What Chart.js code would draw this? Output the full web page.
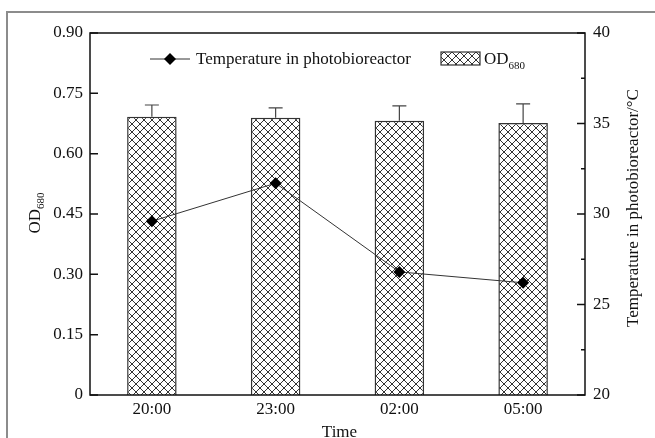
<!DOCTYPE html>
<html>
<head>
<meta charset="utf-8">
<script src="https://cdn.jsdelivr.net/npm/chart.js@4"></script>
<style>
  body { margin: 0; background: #fff; }
  #wrap { width: 655px; height: 438px; }
</style>
</head>
<body>
<div id="wrap"><canvas id="chart" width="655" height="438"></canvas></div>
<script>
// data
const times = ['20:00', '23:00', '02:00', '05:00'];
const od680 = [0.692, 0.689, 0.682, 0.676];
const od680Err = [0.029, 0.025, 0.037, 0.048];
const temperature = [29.6, 31.7, 26.8, 26.2];

const FONT = "'Liberation Serif', 'DejaVu Serif', serif";
const FS = 17;

// cross hatch fill for the bars
function makeHatch() {
    const c = document.createElement('canvas');
    c.width = 8; c.height = 8;
    const g = c.getContext('2d');
    g.fillStyle = '#fff';
    g.fillRect(0, 0, 8, 8);
    g.strokeStyle = '#333';
    g.lineWidth = 1;
    g.beginPath();
    g.moveTo(0, 0); g.lineTo(8, 8);
    g.moveTo(8, 0); g.lineTo(0, 8);
    g.stroke();
    return g.createPattern(c, 'repeat');
}
const hatch = makeHatch();

// frame, axes box, inward ticks, error bars, titles and legend
const decor = {
    id: 'decor',
    afterDatasetsDraw(chart) {
        const ctx = chart.ctx;
        const y = chart.scales.y;
        ctx.save();
        // error bars (upper only)
        ctx.strokeStyle = '#444';
        ctx.lineWidth = 1.2;
        const bars = chart.getDatasetMeta(0).data;
        bars.forEach((b, i) => {
            const top = y.getPixelForValue(od680[i] + od680Err[i]);
            ctx.beginPath();
            ctx.moveTo(b.x, b.y);
            ctx.lineTo(b.x, top);
            ctx.moveTo(b.x - 7, top);
            ctx.lineTo(b.x + 7, top);
            ctx.stroke();
        });
        ctx.restore();
    },
    afterDraw(chart) {
        const ctx = chart.ctx;
        const a = chart.chartArea;
        const y = chart.scales.y, y1 = chart.scales.y1;
        ctx.save();

        // outer gray frame (top and left only)
        ctx.strokeStyle = '#8c8c8c';
        ctx.lineWidth = 2;
        ctx.beginPath();
        ctx.moveTo(7, 438);
        ctx.lineTo(7, 12);
        ctx.lineTo(655, 12);
        ctx.stroke();

        // plot box
        ctx.strokeStyle = '#111';
        ctx.lineWidth = 1.5;
        ctx.strokeRect(a.left, a.top, a.right - a.left, a.bottom - a.top);

        // inward ticks
        ctx.beginPath();
        y.ticks.forEach(t => {
            const p = y.getPixelForValue(t.value);
            ctx.moveTo(a.left, p); ctx.lineTo(a.left + 8, p);
        });
        y1.ticks.forEach(t => {
            const p = y1.getPixelForValue(t.value);
            ctx.moveTo(a.right, p); ctx.lineTo(a.right - 8, p);
            if (t.value < y1.max) {
                const m = y1.getPixelForValue(t.value + 2.5);
                ctx.moveTo(a.right, m); ctx.lineTo(a.right - 4, m);
            }
        });
        ctx.stroke();

        ctx.fillStyle = '#111';
        ctx.textBaseline = 'alphabetic';

        // x title
        ctx.font = FS + 'px ' + FONT;
        ctx.textAlign = 'center';
        ctx.fillText('Time', (a.left + a.right) / 2 + 2, 437);

        // left title OD680, rotated
        ctx.save();
        ctx.translate(40, 213);
        ctx.rotate(-Math.PI / 2);
        ctx.textAlign = 'left';
        ctx.font = FS + 'px ' + FONT;
        const w1 = ctx.measureText('OD').width;
        ctx.font = '11px ' + FONT;
        const w2 = ctx.measureText('680').width;
        const sx = -(w1 + w2) / 2;
        ctx.font = FS + 'px ' + FONT;
        ctx.fillText('OD', sx, 0);
        ctx.font = '11px ' + FONT;
        ctx.fillText('680', sx + w1, 4);
        ctx.restore();

        // right title
        ctx.save();
        ctx.translate(638, 208);
        ctx.rotate(-Math.PI / 2);
        ctx.textAlign = 'center';
        ctx.font = FS + 'px ' + FONT;
        ctx.fillText('Temperature in photobioreactor/\u00B0C', 0, 0);
        ctx.restore();

        // legend: line with diamond
        const ly = 59;
        ctx.strokeStyle = '#333';
        ctx.lineWidth = 1;
        ctx.beginPath();
        ctx.moveTo(150, ly); ctx.lineTo(190, ly);
        ctx.stroke();
        ctx.fillStyle = '#000';
        ctx.beginPath();
        ctx.moveTo(170 - 6, ly); ctx.lineTo(170, ly - 6);
        ctx.lineTo(170 + 6, ly); ctx.lineTo(170, ly + 6);
        ctx.closePath();
        ctx.fill();
        ctx.fillStyle = '#111';
        ctx.textAlign = 'left';
        ctx.font = FS + 'px ' + FONT;
        ctx.fillText('Temperature in photobioreactor', 196, ly + 5);

        // legend: hatched box
        ctx.fillStyle = hatch;
        ctx.fillRect(441, 52, 39, 13);
        ctx.strokeStyle = '#333';
        ctx.lineWidth = 1.2;
        ctx.strokeRect(441, 52, 39, 13);
        ctx.fillStyle = '#111';
        ctx.font = FS + 'px ' + FONT;
        ctx.fillText('OD', 484, ly + 5);
        const odw = ctx.measureText('OD').width;
        ctx.font = '11px ' + FONT;
        ctx.fillText('680', 484 + odw, ly + 10);

        ctx.restore();
    }
};

new Chart(document.getElementById('chart').getContext('2d'), {
    data: {
        labels: times,
        datasets: [{
            type: 'bar',
            label: 'OD680',
            data: od680,
            yAxisID: 'y',
            backgroundColor: hatch,
            borderColor: '#333',
            borderWidth: 1.5,
            barPercentage: 0.4,
            categoryPercentage: 1,
            order: 2
        }, {
            type: 'line',
            label: 'Temperature in photobioreactor',
            data: temperature,
            yAxisID: 'y1',
            borderColor: '#333',
            borderWidth: 1,
            backgroundColor: '#000',
            pointStyle: 'rectRot',
            pointRadius: 6,
            pointBorderWidth: 0,
            pointBackgroundColor: '#000',
            tension: 0,
            order: 1
        }]
    },
    options: {
        responsive: false,
        animation: false,
        layout: { padding: { top: 33, left: 0, right: 0, bottom: 0 } },
        plugins: {
            legend: { display: false },
            tooltip: { enabled: false }
        },
        scales: {
            x: {
                offset: true,
                grid: { display: false, drawTicks: false },
                border: { display: false },
                ticks: { color: '#111', font: { family: FONT, size: FS }, padding: 4 },
                afterFit: s => { s.height = 43; }
            },
            y: {
                position: 'left',
                min: 0,
                max: 0.9,
                grid: { display: false, drawTicks: false },
                border: { display: false },
                ticks: {
                    stepSize: 0.15,
                    color: '#111',
                    font: { family: FONT, size: FS },
                    padding: 7,
                    callback: v => v === 0 ? '0' : v.toFixed(2)
                },
                afterFit: s => { s.width = 90; }
            },
            y1: {
                position: 'right',
                min: 20,
                max: 40,
                grid: { display: false, drawTicks: false },
                border: { display: false },
                ticks: {
                    stepSize: 5,
                    color: '#111',
                    font: { family: FONT, size: FS },
                    padding: 8
                },
                afterFit: s => { s.width = 70; }
            }
        }
    },
    plugins: [decor]
});
</script>
</body>
</html>
